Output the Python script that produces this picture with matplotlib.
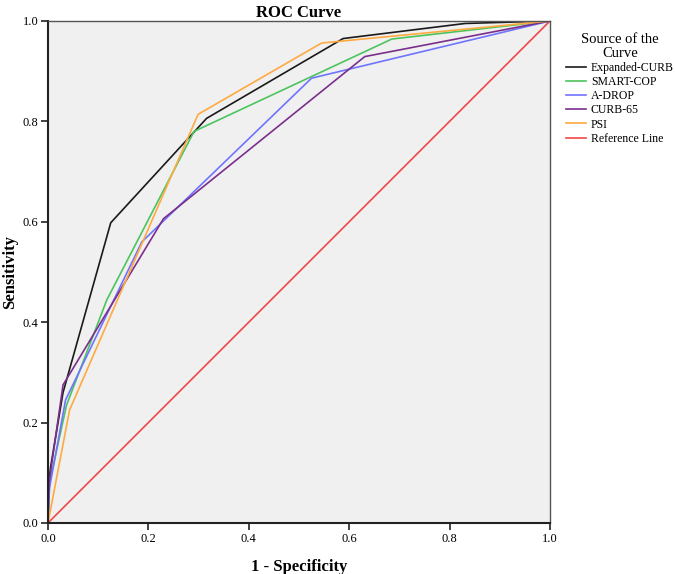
import matplotlib
matplotlib.use("Agg")
import matplotlib.pyplot as plt

# ---------------------------------------------
# DATA
# ---------------------------------------------
curve_names = ["Expanded-CURB", "SMART-COP", "A-DROP", "CURB-65", "PSI"]

fpr_expanded = [0.0, 0.0, 0.005, 0.030, 0.125, 0.316, 0.588, 0.831, 1.0]
tpr_expanded = [0.0, 0.06, 0.11, 0.260, 0.598, 0.806, 0.965, 0.995, 1.0]

fpr_smartcop = [0.0, 0.003, 0.037, 0.117, 0.291, 0.685, 1.0]
tpr_smartcop = [0.0, 0.080, 0.235, 0.444, 0.780, 0.964, 1.0]

fpr_adrop = [0.0, 0.003, 0.035, 0.187, 0.525, 1.0]
tpr_adrop = [0.0, 0.070, 0.245, 0.560, 0.886, 1.0]

fpr_curb65 = [0.0, 0.002, 0.030, 0.230, 0.631, 1.0]
tpr_curb65 = [0.0, 0.080, 0.275, 0.606, 0.929, 1.0]

fpr_psi = [0.0, 0.043, 0.299, 0.545, 1.0]
tpr_psi = [0.0, 0.225, 0.814, 0.956, 1.0]

ref_line = [0.0, 1.0]

ticks = [0.0, 0.2, 0.4, 0.6, 0.8, 1.0]
tick_labels = ["0.0", "0.2", "0.4", "0.6", "0.8", "1.0"]

colors = ["#1a1a1a", "#4cc45e", "#6f74ff", "#7a2f8c", "#ffaa40"]
ref_color = "#f04848"

plt.rcParams["font.family"] = ["Liberation Serif", "DejaVu Serif"]

fig = plt.figure(figsize=(6.75, 5.74), dpi=100)
ax = fig.add_axes([0.0711, 0.0889, 0.7437, 0.8746])
ax.set_facecolor("#f0f0f0")

series = [(fpr_expanded, tpr_expanded), (fpr_smartcop, tpr_smartcop),
          (fpr_adrop, tpr_adrop), (fpr_curb65, tpr_curb65), (fpr_psi, tpr_psi)]
for (xs, ys), name, c in zip(series, curve_names, colors):
    ax.plot(xs, ys, color=c, linewidth=1.2, label=name)
ax.plot(ref_line, ref_line, color=ref_color, linewidth=1.2, label="Reference Line")

ax.set_xlim(0, 1)
ax.set_ylim(0, 1)
ax.set_xticks(ticks)
ax.set_xticklabels(tick_labels, fontsize=9)
ax.set_yticks(ticks)
ax.set_yticklabels(tick_labels, fontsize=9)
ax.tick_params(direction="out", length=5, width=1.2, color="#222222", pad=2)

for side in ["left", "bottom"]:
    ax.spines[side].set_color("#222222")
    ax.spines[side].set_linewidth(1.5)
for side in ["top", "right"]:
    ax.spines[side].set_color("#555555")
    ax.spines[side].set_linewidth(1.0)

ax.set_title("ROC Curve", fontsize=12, fontweight="bold", pad=2)
ax.set_xlabel("1 - Specificity", fontsize=12, fontweight="bold", labelpad=10)
ax.set_ylabel("Sensitivity", fontsize=12, fontweight="bold", labelpad=3)

leg = fig.legend(loc="upper left", bbox_to_anchor=(0.828, 0.955),
                 title="Source of the\nCurve", frameon=False, fontsize=8.5,
                 title_fontsize=10.5, handlelength=1.7, handletextpad=0.4,
                 labelspacing=0.18, borderaxespad=0.2)
leg._legend_box.align = "center"
leg.get_title().set_linespacing(1.1)
leg.get_title().set_multialignment("center")

plt.savefig("out.png", dpi=100)
